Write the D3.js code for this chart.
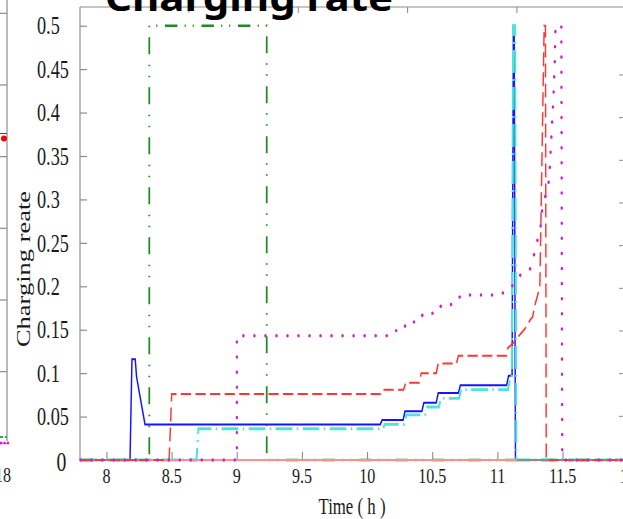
<!DOCTYPE html>
<html><head><meta charset="utf-8">
<script src="https://cdn.jsdelivr.net/npm/d3@7"></script>
<style>html,body{margin:0;padding:0;background:#fff;overflow:hidden}</style>
</head><body><svg id="chart" width="623" height="519"></svg>
<script>
// ---------- data ----------
const titleText = "Charging rate";
const xLabel = "Time ( h )";
const yLabel = "Charging reate";
const xTicks = [8, 8.5, 9, 9.5, 10, 10.5, 11, 11.5, 12];
const xTickLabels = ["8", "8.5", "9", "9.5", "10", "10.5", "11", "11.5", "12"];
const yTicks = [0, 0.05, 0.1, 0.15, 0.2, 0.25, 0.3, 0.35, 0.4, 0.45, 0.5];
const yTickLabels = ["0", "0.05", "0.1", "0.15", "0.2", "0.25", "0.3", "0.35", "0.4", "0.45", "0.5"];

// [time (h), charging rate]
const greenSeries = [[7.8,0],[8.328,0],[8.328,0.5],[9.229,0.5],[9.229,0],[12,0]];
const blueSeries = [[7.8,0],[8.18,0],[8.195,0.116],[8.22,0.116],[8.23,0.096],[8.295,0.041],
  [10.1,0.041],[10.115,0.046],[10.276,0.046],[10.29,0.056],[10.42,0.056],[10.435,0.066],
  [10.53,0.066],[10.545,0.077],[10.70,0.077],[10.715,0.086],[11.07,0.086],[11.085,0.097],
  [11.112,0.097],[11.122,0.5],[11.128,0.5],[11.138,0],[12,0]];
const cyanSeries = [[7.8,0],[8.69,0],[8.705,0.036],[10.12,0.036],[10.135,0.041],[10.285,0.041],
  [10.30,0.052],[10.445,0.052],[10.46,0.061],[10.55,0.061],[10.565,0.071],[10.705,0.071],
  [10.72,0.081],[11.08,0.081],[11.095,0.092],[11.11,0.092],[11.12,0.5],[11.135,0.5],[11.145,0],[12,0]];
const zeroSeries = [[8.24,0],[11.15,0]];
const redSeries = [[7.8,0],[8.48,0],[8.5,0.076],[10.1,0.076],[10.115,0.081],[10.28,0.081],
  [10.295,0.089],[10.40,0.089],[10.415,0.1],[10.53,0.1],[10.545,0.111],[10.685,0.111],
  [10.70,0.12],[11.07,0.12],[11.08,0.129],[11.13,0.136],[11.17,0.144],[11.21,0.151],
  [11.25,0.161],[11.27,0.165],[11.29,0.18],[11.305,0.188],[11.325,0.2],[11.358,0.5],
  [11.368,0.5],[11.374,0],[12,0]];
const magentaSeries = [[7.8,0],[9.0,0],[9.0,0.143],[10.17,0.143],[10.2,0.149],[10.28,0.149],
  [10.3,0.159],[10.4,0.159],[10.43,0.169],[10.54,0.169],[10.57,0.179],[10.67,0.179],
  [10.72,0.19],[11.0,0.19],[11.07,0.194],[11.13,0.203],[11.18,0.214],[11.25,0.22],
  [11.28,0.236],[11.305,0.252],[11.33,0.268],[11.34,0.285],[11.36,0.3],[11.39,0.316],
  [11.40,0.333],[11.415,0.376],[11.43,0.42],[11.44,0.46],[11.445,0.5],[11.49,0.5],
  [11.497,0],[12,0]];

// ---------- drawing ----------
const SX = 0.73; // horizontal squeeze of the original figure
const svg = d3.select("#chart");
svg.append("rect").attr("width", 623).attr("height", 519).attr("fill", "#fff");

const grey = "#8c8c8c";
const serif = "'Liberation Serif','Times New Roman',serif";

// neighbouring panels (partially visible decorations)
const leftNb = d3.scaleLinear().domain([0, 1]).range([13.3, 84.97]);
svg.append("line").attr("x1", 7).attr("x2", 7).attr("y1", 0).attr("y2", 441)
  .attr("stroke", grey).attr("stroke-width", 1.2);
svg.selectAll(".lnt").data(d3.range(0, 7)).join("line")
  .attr("x1", 0).attr("x2", 7).attr("y1", d => leftNb(d)).attr("y2", d => leftNb(d))
  .attr("stroke", grey).attr("stroke-width", 1.2);
svg.append("line").attr("x1", 0).attr("x2", 7).attr("y1", 133.5).attr("y2", 133.5)
  .attr("stroke", "#3a3aff").attr("stroke-width", 1);
svg.append("circle").attr("cx", 4).attr("cy", 138.5).attr("r", 3).attr("fill", "#ff0000");
svg.append("line").attr("x1", 0).attr("x2", 7).attr("y1", 437).attr("y2", 437)
  .attr("stroke", "#22aa55").attr("stroke-width", 2).attr("stroke-dasharray", "3,2");
svg.append("line").attr("x1", 0).attr("x2", 10).attr("y1", 443).attr("y2", 443)
  .attr("stroke", "#ff00ff").attr("stroke-width", 2.5).attr("stroke-dasharray", "2,1.5");
svg.append("text").attr("transform", `translate(11,482) scale(${SX},1)`)
  .attr("text-anchor", "end").attr("font-family", serif).attr("font-size", 22).attr("fill", "#222").text("18");

const rightNb = d3.scaleLinear().domain([0, 1]).range([459, 32.3]);
svg.selectAll(".rnt").data(d3.range(1, 10).map(i => i / 10)).join("line")
  .attr("x1", 619).attr("x2", 623).attr("y1", d => rightNb(d)).attr("y2", d => rightNb(d))
  .attr("stroke", grey).attr("stroke-width", 1);

// main plot, drawn in a horizontally squeezed frame
const g = svg.append("g").attr("transform", `scale(${SX},1)`);
const x = d3.scaleLinear().domain([7.8, 12]).range([80.5 / SX, 627.8 / SX]);
const y = d3.scaleLinear().domain([0, 0.5]).range([460, 25.7]);
const X0 = 80 / SX, XR = 640 / SX, YT = 7;

// spines
g.append("line").attr("x1", X0).attr("x2", X0).attr("y1", YT).attr("y2", 460)
  .attr("stroke", grey).attr("stroke-width", 1.6);
g.append("line").attr("x1", X0).attr("x2", XR).attr("y1", YT).attr("y2", YT)
  .attr("stroke", grey).attr("stroke-width", 1.2);
const topNb = d3.scaleLinear().domain([0, 1]).range([189 / SX, 298.3 / SX]);
g.selectAll(".tnt").data([0, 1, 2, 3]).join("line")
  .attr("x1", d => topNb(d)).attr("x2", d => topNb(d)).attr("y1", YT).attr("y2", YT + 6)
  .attr("stroke", grey).attr("stroke-width", 1.4);

// y axis ticks (inward)
const yAx = g.append("g").attr("transform", `translate(${X0},0)`)
  .call(d3.axisRight(y).tickValues(yTicks).tickSize(7 / SX).tickFormat(""));
yAx.select(".domain").remove();
yAx.selectAll("line").attr("stroke", grey).attr("stroke-width", 1.2);

// x axis ticks (inward)
const xAx = g.append("g").attr("transform", `translate(0,460)`)
  .call(d3.axisTop(x).tickValues(xTicks).tickSize(8).tickFormat(""));
xAx.select(".domain").remove();
xAx.selectAll("line").attr("stroke", grey).attr("stroke-width", 1.5);

const line = d3.line().x(d => x(d[0])).y(d => y(d[1]));
const styles = {
  green:   {stroke: "#1e8c1e", w: 2.4, dash: "17,10,1.5,9.5,1.5,10.5", cap: "butt"},
  blue:    {stroke: "#1414ff", w: 2.0, dash: null, cap: "butt"},
  cyan:    {stroke: "#4fe3da", w: 2.8, dash: "23,6,2,6", cap: "butt"},
  zero:    {stroke: "#ff8e8e", w: 2.2, dash: null, cap: "butt"},
  red:     {stroke: "#ff3636", w: 2.0, dash: "14,6", cap: "butt"},
  magenta: {stroke: "#cc22cc", w: 3.4, dash: "0.1,15", cap: "round"}
};
function drawSeries(data, key) {
  const s = styles[key];
  g.append("path").datum(data).attr("d", line).attr("fill", "none")
    .attr("stroke", s.stroke).attr("stroke-width", s.w)
    .attr("stroke-linecap", s.cap).attr("stroke-linejoin", "miter")
    .attr("stroke-dasharray", s.dash);
}
drawSeries(greenSeries, "green");
drawSeries(blueSeries, "blue");
drawSeries(cyanSeries, "cyan");
// x-axis baseline
g.append("line").attr("x1", X0).attr("x2", XR).attr("y1", y(0)).attr("y2", y(0))
  .attr("stroke", grey).attr("stroke-width", 1.8);
drawSeries(zeroSeries, "zero");
drawSeries(redSeries, "red");
drawSeries(magentaSeries, "magenta");

// tick labels
g.selectAll(".ytl").data(yTicks).join("text")
  .attr("x", (d, i) => i === 0 ? 56.5 / SX : 37 / SX)
  .attr("y", d => y(d))
  .attr("dy", (d, i) => i === 0 ? "0.42em" : "0.35em")
  .attr("font-family", serif).attr("font-size", (d, i) => i === 0 ? 27 : 25)
  .attr("fill", "#1a1a1a")
  .text((d, i) => yTickLabels[i]);
g.selectAll(".xtl").data(xTicks).join("text")
  .attr("x", d => x(d)).attr("y", 483).attr("text-anchor", "middle")
  .attr("font-family", serif).attr("font-size", 22).attr("fill", "#1a1a1a")
  .text((d, i) => xTickLabels[i]);

// axis titles
g.append("text").attr("x", 352 / SX).attr("y", 514).attr("text-anchor", "middle")
  .attr("font-family", serif).attr("font-size", 23).attr("fill", "#1a1a1a").text(xLabel);
g.append("text").attr("transform", `translate(${30 / SX},269) rotate(-90)`)
  .attr("text-anchor", "middle").attr("font-family", serif).attr("font-size", 26.5)
  .attr("fill", "#1a1a1a").text(yLabel);

// chart title (cut off at the top)
svg.append("text").attr("x", 105).attr("y", 11)
  .attr("textLength", 288).attr("lengthAdjust", "spacingAndGlyphs")
  .attr("font-family", "'Noto Sans','DejaVu Sans',sans-serif").attr("font-weight", "bold")
  .attr("font-size", 36).attr("fill", "#000").text(titleText);
</script></body></html>
